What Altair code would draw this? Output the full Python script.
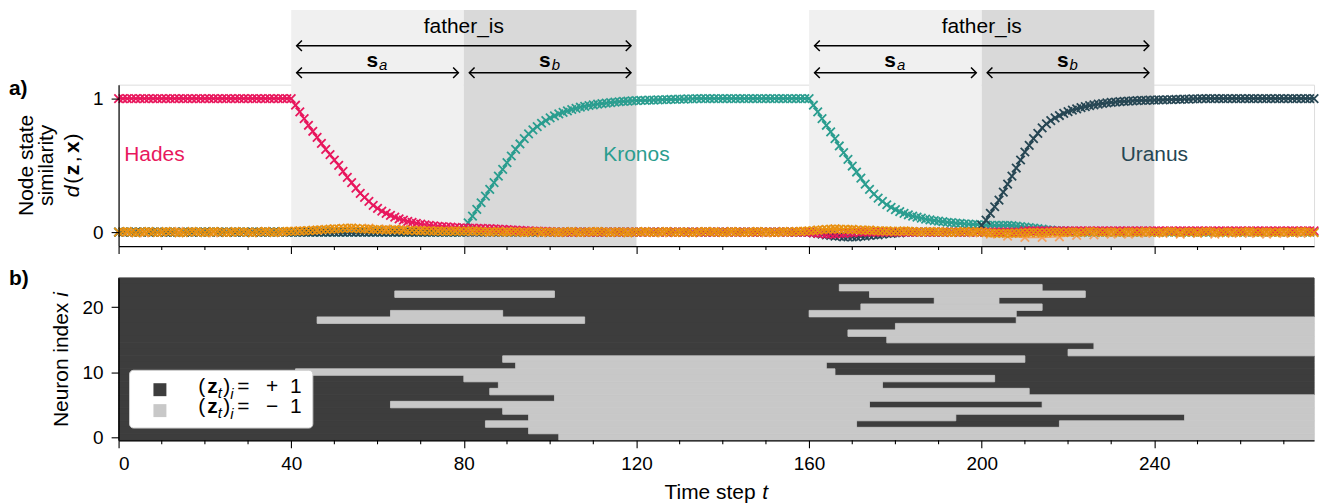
import altair as alt
import pandas as pd

FONT = "Liberation Sans"
T_END = 277

# ---------------- panel a: node state similarity d(z, x) ----------------
SERIES_NAMES = ["Kronos", "Uranus", "Hades", "other_1", "other_2"]
SERIES_COLORS = ["#2A9D8F", "#264653", "#E8175D", "#F4A261", "#E8910F"]

# Hades (t = 0..277)
HADES_HEAD = [1.0] * 40  # t = 0..39
HADES_DECAY = [1.0, 0.95, 0.90, 0.85, 0.80, 0.755, 0.71, 0.665, 0.62, 0.58,
               0.54, 0.50, 0.455, 0.41, 0.37, 0.33, 0.29, 0.26, 0.23, 0.20,
               0.178, 0.158, 0.14, 0.125, 0.112, 0.10, 0.09, 0.081, 0.073, 0.066,
               0.06, 0.055, 0.051, 0.047, 0.044, 0.041, 0.039, 0.037, 0.035, 0.033,
               0.032]  # t = 40..80
HADES_TAIL = ([0.031, 0.03, 0.029, 0.028, 0.027, 0.026, 0.025, 0.023, 0.021, 0.019,
               0.017, 0.015, 0.013, 0.011, 0.01, 0.008, 0.007, 0.006, 0.005, 0.004]
              + [0.0] * 59
              + [0.0, -0.005, -0.01, -0.01, -0.015, -0.015, -0.015, -0.01, -0.01, -0.005,
                 -0.005, 0.0, 0.0, 0.0, 0.0, 0.0, 0.0, 0.0, 0.0, 0.0]
              + [0.0] * 30 + [0.01] * 68)  # t = 81..277

# Kronos
KRONOS_PRE = [0.0] * 80  # t = 0..79
KRONOS_RISE = [0.03, 0.07, 0.12, 0.17, 0.22, 0.27, 0.32, 0.37, 0.42, 0.47,
               0.52, 0.57, 0.62, 0.66, 0.70, 0.735, 0.765, 0.79, 0.815, 0.835,
               0.855, 0.87, 0.885, 0.897, 0.908, 0.918, 0.927, 0.935, 0.942, 0.948,
               0.953, 0.958, 0.962, 0.966, 0.970, 0.973, 0.976, 0.979, 0.981, 0.983,
               0.985]  # t = 80..120
KRONOS_PLATEAU = [0.986, 0.987, 0.988, 0.989, 0.99, 0.991, 0.992, 0.993, 0.994, 0.995,
                  0.996, 0.997, 0.998, 0.999] + [1.0] * 25  # t = 121..159
KRONOS_DECAY = [1.0, 0.95, 0.90, 0.85, 0.80, 0.75, 0.70, 0.645, 0.595, 0.545,
                0.495, 0.45, 0.405, 0.36, 0.32, 0.285, 0.255, 0.23, 0.205, 0.185,
                0.168, 0.153, 0.14, 0.13, 0.12, 0.112, 0.105, 0.098, 0.092, 0.087,
                0.082, 0.078, 0.074, 0.071, 0.068, 0.065, 0.062, 0.06, 0.058, 0.056,
                0.054]  # t = 160..200
KRONOS_TAIL = ([0.052, 0.05, 0.05, 0.05, 0.05, 0.05, 0.048, 0.045, 0.042, 0.038, 0.034,
                0.03, 0.026, 0.022, 0.018, 0.015, 0.012, 0.01, 0.008, 0.006, 0.005]
               + [0.0] * 56)  # t = 201..277

# Uranus
URANUS_PRE = [0.0] * 160  # t = 0..159
URANUS_DIP = ([0.0, -0.005, -0.01, -0.015, -0.02, -0.025, -0.03, -0.03, -0.035, -0.035,
               -0.035, -0.035, -0.03, -0.03, -0.025, -0.02, -0.02, -0.015, -0.01, -0.01,
               -0.005, -0.005] + [0.0] * 18)  # t = 160..199
URANUS_RISE = [0.05, 0.09, 0.14, 0.19, 0.24, 0.30, 0.36, 0.42, 0.48, 0.54,
               0.60, 0.65, 0.70, 0.74, 0.78, 0.81, 0.835, 0.855, 0.873, 0.889,
               0.902, 0.913, 0.923, 0.932, 0.94, 0.947, 0.953, 0.958, 0.963, 0.967,
               0.971, 0.974, 0.977, 0.979, 0.981, 0.983, 0.985, 0.986, 0.987, 0.988,
               0.989]  # t = 200..240
URANUS_PLATEAU = [0.99, 0.99, 0.991, 0.992, 0.993, 0.994, 0.995, 0.996, 0.997, 0.998,
                  0.999] + [1.0] * 26  # t = 241..277

# other nodes near zero
OTHER_1_T = list(range(2, 275, 4))
OTHER_1 = [0.0, -0.005, 0.0, 0.005, 0.0, -0.005, 0.0, 0.0, 0.005, 0.0,
           0.01, 0.015, 0.025, 0.03, 0.03, 0.025, 0.02, 0.015, 0.01, 0.01,
           0.005, 0.0, 0.005, 0.0, -0.005, 0.0, 0.0, 0.005, 0.0, 0.0,
           0.0, -0.005, 0.0, 0.0, 0.005, 0.0, 0.0, -0.005, 0.0, 0.005,
           0.015, 0.025, 0.02, 0.015, 0.01, 0.005, 0.0, 0.005, 0.0, -0.005,
           -0.015, -0.03, -0.04, -0.04, -0.035, -0.025, -0.02, -0.015, -0.015, -0.01,
           -0.01, -0.015, -0.01, -0.015, -0.01, -0.01, -0.015, -0.01, -0.01]
OTHER_2_T = list(range(0, T_END + 1))
OTHER_2 = [0, .003, .005, 0, -.005, 0, .003, .005, 0, -.003,
           0, .005, .003, 0, -.005, -.003, 0, .005, .003, 0,
           -.003, 0, .005, .003, 0, -.003, 0, .005, 0, .003,
           0, -.005, 0, .003, .005, 0, -.003, 0, .005, .005,
           .005, .008, .01, .01, .012, .015, .015, .018, .02, .022,
           .025, .025, .028, .03, .03, .028, .025, .025, .022, .02,
           .02, .018, .015, .018, .02, .018, .015, .012, .015, .012,
           .01, .012, .01, .008, .01, .008, .005, .008, .01, .008,
           .005, .008, .01, .008, .005, .003, 0, .003, .005, 0,
           0, .003, .005, 0, -.003, 0, .003, .005, 0, 0,
           .003, 0, -.003, 0, .003, .005, 0, -.003, 0, .003,
           0, .005, .003, 0, -.003, 0, .003, 0, -.005, 0,
           .003, 0, .005, 0, -.003, 0, .003, .005, 0, -.003,
           0, .003, 0, -.005, 0, .003, .005, 0, .003, 0,
           -.003, 0, .005, .003, 0, -.003, 0, .003, .005, 0,
           .003, 0, -.003, 0, .005, .003, 0, .005, .005, .008,
           .01, .012, .015, .018, .02, .022, .025, .022, .02, .02,
           .02, .018, .015, .015, .015, .012, .01, .01, .01, .008,
           .005, .008, .01, .008, .005, .003, 0, .003, .005, .003,
           0, .003, 0, -.003, 0, .003, .005, 0, .003, .005,
           0, -.003, -.005, -.008, -.01, -.01, -.008, -.01, -.008, -.005,
           -.005, -.003, 0, -.003, -.005, -.003, 0, .003, 0, -.003,
           0, .003, 0, -.003, 0, .005, .003, 0, -.003, 0,
           .003, 0, -.005, 0, .003, 0, -.003, 0, .005, 0,
           0, -.003, 0, .003, .005, 0, -.003, 0, .003, 0,
           -.003, 0, .005, .003, 0, -.005, 0, .003, 0, -.003,
           0, .003, .005, 0, -.003, 0, .003, 0, -.003, 0,
           .003, 0, -.003, 0, .005, .003, 0, -.003]

# labels of the node curves
NODE_LABELS = ["Hades", "Kronos", "Uranus"]
NODE_LABEL_T = [1.3, 120, 240]
NODE_LABEL_V = [0.58, 0.58, 0.58]

# shaded role regions (sub-role a, sub-role b)
REGION_START = [40, 80, 160, 200]
REGION_END = [80, 120, 200, 240]
REGION_PART = ["a", "b", "a", "b"]
ROLE_NAME = "father_is"

# ---------------- panel b: neuron states ----------------
N_NEURONS = 25
# time steps where neuron i flips; every neuron starts at +1
NEURON_SWITCHES = [
    [102], [95], [85, 171, 218], [95, 194, 247], [89],
    [63, 174, 214], [101], [86, 211], [88, 177], [80, 203],
    [41, 166], [92, 164], [89, 210], [220], [226],
    [178], [169], [180], [46, 108, 208], [63, 89, 160, 208],
    [172, 214], [189, 204], [64, 101, 174, 224], [167, 214], [],
]
MAJOR_TICKS = list(range(0, 241, 40))
MINOR_TICKS = [t for t in range(10, 271, 10) if t % 40]

# ---------------- build tables ----------------
hades = HADES_HEAD + HADES_DECAY + HADES_TAIL
kronos = KRONOS_PRE + KRONOS_RISE + KRONOS_PLATEAU + KRONOS_DECAY + KRONOS_TAIL
uranus = URANUS_PRE + URANUS_DIP + URANUS_RISE + URANUS_PLATEAU
assert len(hades) == len(kronos) == len(uranus) == T_END + 1
assert len(OTHER_1) == len(OTHER_1_T) and len(OTHER_2) == len(OTHER_2_T)

rows = []
for name, vals in [("Kronos", kronos), ("Uranus", uranus), ("Hades", hades)]:
    rows += [{"t": t, "v": v, "series": name} for t, v in enumerate(vals)]
rows += [{"t": t, "v": v, "series": "other_1"} for t, v in zip(OTHER_1_T, OTHER_1)]
rows += [{"t": t, "v": v, "series": "other_2"} for t, v in zip(OTHER_2_T, OTHER_2)]
sim_df = pd.DataFrame(rows)

lab_df = pd.DataFrame({"t": NODE_LABEL_T, "v": NODE_LABEL_V, "series": NODE_LABELS})
region_df = pd.DataFrame({"t": REGION_START, "t2": REGION_END, "part": REGION_PART})
role_df = pd.DataFrame({"t": REGION_START[0::2], "t2": REGION_END[1::2]})
role_df["tc"] = (role_df["t"] + role_df["t2"]) / 2
role_df["label"] = ROLE_NAME
sub_df = region_df.copy()
sub_df["tc"] = (sub_df["t"] + sub_df["t2"]) / 2
minor_df = pd.DataFrame({"t": MINOR_TICKS})

heat_rows = []
for i, sw in enumerate(NEURON_SWITCHES):
    edges = [0] + sw + [T_END]
    for k in range(len(edges) - 1):
        heat_rows.append({"t": edges[k], "t2": edges[k + 1], "lo": i - 0.5, "hi": i + 0.5,
                          "state": "+1" if k % 2 == 0 else "-1"})
heat_df = pd.DataFrame(heat_rows)
heat_dark = heat_df[heat_df.state == "+1"]
heat_light = heat_df[heat_df.state == "-1"]
ONE = pd.DataFrame({"_": [0]})

# ---------------- scales / axes ----------------
AX_COMMON = dict(grid=False, domainColor="black", tickColor="black", labelColor="black",
                 domainWidth=1.2, tickWidth=1.1, labelFont=FONT, labelFontSize=19, zindex=1,
                 title=None, tickSize=7.5)
XSCALE = alt.Scale(domain=[0, T_END], nice=False, zero=False)
AX_XA = alt.Axis(values=MAJOR_TICKS, labels=False, **AX_COMMON)
AX_XB = alt.Axis(values=MAJOR_TICKS, labelPadding=7, **AX_COMMON)
AX_YA = alt.Axis(values=[0, 1], format="d", labelPadding=8, **AX_COMMON)
AX_YB = alt.Axis(values=[0, 10, 20], format="d", labelPadding=8, **AX_COMMON)
YSCALE_A = alt.Scale(domain=[-0.104, 1.104], nice=False, zero=False)
YSCALE_B = alt.Scale(domain=[-0.5, N_NEURONS - 0.5], nice=False, zero=False)


def XA(f):
    return alt.X(f"{f}:Q", scale=XSCALE, axis=AX_XA)


def XB(f):
    return alt.X(f"{f}:Q", scale=XSCALE, axis=AX_XB)


def YA(f):
    return alt.Y(f"{f}:Q", scale=YSCALE_A, axis=AX_YA)


SERIES_SCALE = alt.Scale(domain=SERIES_NAMES, range=SERIES_COLORS)
DARK, LIGHT = "#3d3d3d", "#c8c8c8"
X_PATH = "M-1,-1L1,1M-1,1L1,-1"
LEFT_HEAD = "M1,-1L0,0L1,1"
RIGHT_HEAD = "M-1,-1L0,0L-1,1"


def txt(text, x, y, size=21, **kw):
    return alt.Chart(ONE).mark_text(text=text, font=FONT, fontSize=size, color="black",
                                    **kw).encode(x=alt.value(x), y=alt.value(y))


def minor(xfun, h):
    return alt.Chart(minor_df).mark_rule(color="black", strokeWidth=1.1).encode(
        x=xfun("t"), y=alt.value(h), y2=alt.value(h + 4))


# ---------------- panel a ----------------
shade = alt.Chart(region_df).mark_rect().encode(
    x=XA("t"), x2="t2:Q", y=alt.value(-75), y2=alt.value(162),
    fill=alt.Fill("part:N", scale=alt.Scale(domain=["a", "b"], range=["#f0f0f0", "#d9d9d9"]),
                  legend=None))
lines = alt.Chart(sim_df).mark_line(strokeWidth=1.6).encode(
    x=XA("t"), y=YA("v"), color=alt.Color("series:N", scale=SERIES_SCALE, legend=None),
    order="t:Q")
points = alt.Chart(sim_df).mark_point(shape=X_PATH, size=72, filled=False, strokeWidth=1.8,
                                      opacity=1).encode(
    x=XA("t"), y=YA("v"), color=alt.Color("series:N", scale=SERIES_SCALE, legend=None))
hades_lab = alt.Chart(lab_df[lab_df.series == "Hades"]).mark_text(
    font=FONT, fontSize=21, align="left", baseline="middle").encode(
    x=XA("t"), y=YA("v"), text="series:N",
    color=alt.Color("series:N", scale=SERIES_SCALE, legend=None))
other_lab = alt.Chart(lab_df[lab_df.series != "Hades"]).mark_text(
    font=FONT, fontSize=21, align="center", baseline="middle").encode(
    x=XA("t"), y=YA("v"), text="series:N",
    color=alt.Color("series:N", scale=SERIES_SCALE, legend=None))

arrow_kw = dict(color="black", strokeWidth=1.5)
head_kw = dict(size=110, filled=False, color="black", strokeWidth=1.5, opacity=1)
outer_rule = alt.Chart(role_df).mark_rule(xOffset=5.5, x2Offset=-5.5, **arrow_kw).encode(
    x=XA("t"), x2="t2:Q", y=alt.value(-39))
outer_l = alt.Chart(role_df).mark_point(shape=LEFT_HEAD, xOffset=5.5, **head_kw).encode(
    x=XA("t"), y=alt.value(-39))
outer_r = alt.Chart(role_df).mark_point(shape=RIGHT_HEAD, xOffset=-5.5, **head_kw).encode(
    x=XA("t2"), y=alt.value(-39))
role_txt = alt.Chart(role_df).mark_text(font=FONT, fontSize=21, baseline="alphabetic",
                                        color="black").encode(
    x=XA("tc"), y=alt.value(-52), text="label:N")
inner_rule = alt.Chart(sub_df).mark_rule(xOffset=5.5, x2Offset=-5.5, **arrow_kw).encode(
    x=XA("t"), x2="t2:Q", y=alt.value(-12))
inner_l = alt.Chart(sub_df).mark_point(shape=LEFT_HEAD, xOffset=5.5, **head_kw).encode(
    x=XA("t"), y=alt.value(-12))
inner_r = alt.Chart(sub_df).mark_point(shape=RIGHT_HEAD, xOffset=-5.5, **head_kw).encode(
    x=XA("t2"), y=alt.value(-12))
s_txt = alt.Chart(sub_df).mark_text(text="s", font=FONT, fontSize=21, fontWeight="bold",
                                    align="right", baseline="alphabetic", dx=0.5,
                                    color="black").encode(x=XA("tc"), y=alt.value(-18))
s_sub = alt.Chart(sub_df).mark_text(font=FONT, fontSize=15, fontStyle="italic", align="left",
                                    baseline="alphabetic", dx=1.5, color="black").encode(
    x=XA("tc"), y=alt.value(-14.5), text="part:N")

YT = 81  # vertical centre of the y title
title_a = [
    txt("a)", -110, 10.3, fontWeight="bold", align="left", baseline="alphabetic"),
    txt("Node state", -86, YT, angle=270, baseline="alphabetic"),
    txt("similarity", -65.5, YT, angle=270, baseline="alphabetic"),
    txt("d", -40, YT, angle=270, align="left", baseline="alphabetic", dx=-32,
        fontStyle="italic"),
    txt("(", -40, YT, angle=270, align="left", baseline="alphabetic", dx=-18.5),
    txt("z", -40, YT, angle=270, align="left", baseline="alphabetic", dx=-10,
        fontWeight="bold"),
    txt(",", -40, YT, angle=270, align="left", baseline="alphabetic", dx=3),
    txt("x", -40, YT, angle=270, align="left", baseline="alphabetic", dx=12.5,
        fontWeight="bold"),
    txt(")", -40, YT, angle=270, align="left", baseline="alphabetic", dx=25),
]

panel_a = alt.layer(shade, lines, points, hades_lab, other_lab, outer_rule, outer_l, outer_r,
                    role_txt, inner_rule, inner_l, inner_r, s_txt, s_sub, minor(XA, 162),
                    *title_a).properties(width=1200, height=162)

# ---------------- panel b ----------------
heat_d = alt.Chart(heat_dark).mark_rect(fill=DARK, stroke=DARK, strokeWidth=1).encode(
    x=XB("t"), x2="t2:Q", y=alt.Y("lo:Q", scale=YSCALE_B, axis=AX_YB), y2="hi:Q")
heat_l = alt.Chart(heat_light).mark_rect(fill=LIGHT, stroke=LIGHT, strokeWidth=0.8).encode(
    x=XB("t"), x2="t2:Q", y=alt.Y("lo:Q", scale=YSCALE_B, axis=AX_YB), y2="hi:Q")

leg_box = alt.Chart(ONE).mark_rect(fill="white", stroke="#cccccc", strokeWidth=1,
                                   cornerRadius=4).encode(
    x=alt.value(11), x2=alt.value(195), y=alt.value(92.7), y2=alt.value(150.7))
leg_sq1 = alt.Chart(ONE).mark_rect(fill=DARK).encode(
    x=alt.value(35), x2=alt.value(48), y=alt.value(105.7), y2=alt.value(118.7))
leg_sq2 = alt.Chart(ONE).mark_rect(fill=LIGHT).encode(
    x=alt.value(35), x2=alt.value(48), y=alt.value(126.7), y2=alt.value(139.7))


def leg_label(sign, by):
    kw = dict(align="left", baseline="alphabetic")
    return [
        txt("(", 80, by, **kw),
        txt("z", 89, by, fontWeight="bold", **kw),
        txt("t", 99.5, by + 5, size=15, fontStyle="italic", **kw),
        txt(")", 105, by, **kw),
        txt("i", 112, by + 6, size=15, fontStyle="italic", **kw),
        txt("=", 119, by, **kw),
        txt(sign, 148, by, **kw),
        txt("1", 172, by, **kw),
    ]


title_b = [
    txt("b)", -110, 6.7, fontWeight="bold", align="left", baseline="alphabetic"),
    txt("Neuron index", -51, 82, angle=270, align="left", baseline="alphabetic", dx=-67.7),
    txt("i", -51, 82, angle=270, align="left", baseline="alphabetic", dx=63,
        fontStyle="italic"),
    txt("Time step", 548, 222, align="left", baseline="alphabetic"),
    txt("t", 646, 222, align="left", baseline="alphabetic", fontStyle="italic"),
]

panel_b = alt.layer(heat_d, heat_l, minor(XB, 163), leg_box, leg_sq1, leg_sq2,
                    *leg_label("+", 115.4), *leg_label("\u2212", 136),
                    *title_b).properties(width=1200, height=163)

chart = alt.vconcat(panel_a, panel_b, spacing=12).resolve_scale(
    color="independent", fill="independent", stroke="independent").properties(
    padding=0).configure_view(stroke=None).configure(font=FONT)

chart.save("out.html", embed_options={"renderer": "svg", "actions": False})
